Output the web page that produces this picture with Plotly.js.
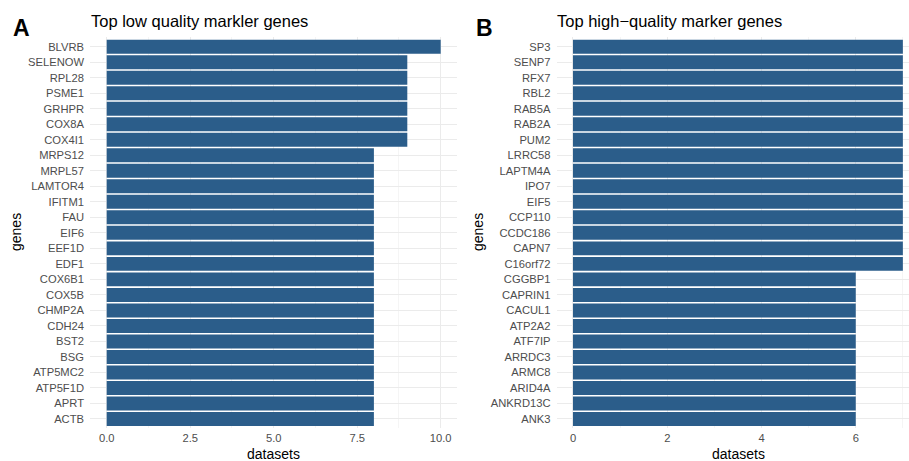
<!DOCTYPE html>
<html>
<head>
<meta charset="utf-8">
<script src="https://cdn.plot.ly/plotly-3.0.1.min.js"></script>
<style>html,body{margin:0;padding:0;background:#fff;}#chart{width:909px;height:461px;}</style>
</head>
<body>
<div id="chart"></div>
<script>
const genesA = ["BLVRB","SELENOW","RPL28","PSME1","GRHPR","COX8A","COX4I1","MRPS12","MRPL57","LAMTOR4","IFITM1","FAU","EIF6","EEF1D","EDF1","COX6B1","COX5B","CHMP2A","CDH24","BST2","BSG","ATP5MC2","ATP5F1D","APRT","ACTB"];
const valuesA = [10,9,9,9,9,9,9,8,8,8,8,8,8,8,8,8,8,8,8,8,8,8,8,8,8];
const genesB = ["SP3","SENP7","RFX7","RBL2","RAB5A","RAB2A","PUM2","LRRC58","LAPTM4A","IPO7","EIF5","CCP110","CCDC186","CAPN7","C16orf72","CGGBP1","CAPRIN1","CACUL1","ATP2A2","ATF7IP","ARRDC3","ARMC8","ARID4A","ANKRD13C","ANK3"];
const valuesB = [7,7,7,7,7,7,7,7,7,7,7,7,7,7,7,6,6,6,6,6,6,6,6,6,6];
const titleA = "Top low quality markler genes";
const titleB = "Top high\u2212quality marker genes";

const W = 909, H = 461;
const FONT = "Liberation Sans, Arial, Helvetica, sans-serif";
const barColor = "#2b5d8a";
const grid = "#ebebeb";
const tickFont = {family: FONT, size: 11.2, color: "#4d4d4d"};
const yDom = [(H - 428.3) / H, (H - 37.4) / H];

const traces = [
  {type: "bar", orientation: "h", x: valuesA, y: genesA, xaxis: "x", yaxis: "y",
   marker: {color: barColor, line: {width: 0}}, hoverinfo: "x+y"},
  {type: "bar", orientation: "h", x: valuesB, y: genesB, xaxis: "x2", yaxis: "y2",
   marker: {color: barColor, line: {width: 0}}, hoverinfo: "x+y"}
];

function yAxis(cats, anchor) {
  return {
    type: "category", categoryorder: "array", categoryarray: cats,
    range: [cats.length - 0.4, -0.6], domain: yDom, anchor: anchor,
    showgrid: true, gridcolor: grid, gridwidth: 1, zeroline: false,
    showline: false, ticks: "", tickfont: tickFont, ticklabelstandoff: 5,
    automargin: false, fixedrange: true
  };
}

const layout = {
  width: W, height: H,
  margin: {l: 0, r: 0, t: 0, b: 0, pad: 0},
  paper_bgcolor: "#fff", plot_bgcolor: "#fff",
  showlegend: false, bargap: 0.1,
  font: {family: FONT},
  xaxis: {
    domain: [90 / W, 457.4 / W], anchor: "y", range: [-0.5, 10.5],
    tickmode: "linear", tick0: 0, dtick: 2.5, tickformat: ".1f",
    showgrid: true, gridcolor: grid, gridwidth: 1, zeroline: false, showline: false,
    ticks: "", tickfont: tickFont, ticklabelstandoff: 1, automargin: false, fixedrange: true,
    minor: {tick0: 0, dtick: 1.25, showgrid: true, gridcolor: "#eeeeee", gridwidth: 0.6, ticks: ""}
  },
  yaxis: yAxis(genesA, "x"),
  xaxis2: {
    domain: [556.5 / W, 1], anchor: "y2", range: [-0.35, 7.13],
    tickmode: "linear", tick0: 0, dtick: 2, tickformat: "d",
    showgrid: true, gridcolor: grid, gridwidth: 1, zeroline: false, showline: false,
    ticks: "", tickfont: tickFont, ticklabelstandoff: 1, automargin: false, fixedrange: true,
    minor: {tick0: 0, dtick: 1, showgrid: true, gridcolor: "#eeeeee", gridwidth: 0.6, ticks: ""}
  },
  yaxis2: yAxis(genesB, "x2"),
  annotations: [
    {text: "<b>A</b>", xref: "paper", yref: "paper", x: 11 / W, y: 1 - 28 / H,
     xanchor: "left", yanchor: "middle", showarrow: false, font: {family: FONT, size: 23, color: "#000"}},
    {text: "<b>B</b>", xref: "paper", yref: "paper", x: 474 / W, y: 1 - 28 / H,
     xanchor: "left", yanchor: "middle", showarrow: false, font: {family: FONT, size: 23, color: "#000"}},
    {text: titleA, xref: "paper", yref: "paper", x: 89 / W, y: 1 - 21 / H,
     xanchor: "left", yanchor: "middle", showarrow: false, font: {family: FONT, size: 16.5, color: "#000"}},
    {text: titleB, xref: "paper", yref: "paper", x: 555 / W, y: 1 - 21 / H,
     xanchor: "left", yanchor: "middle", showarrow: false, font: {family: FONT, size: 16.5, color: "#000"}},
    {text: "genes", xref: "paper", yref: "paper", x: 16 / W, y: 1 - 232 / H, textangle: -90,
     xanchor: "center", yanchor: "middle", showarrow: false, font: {family: FONT, size: 14, color: "#000"}},
    {text: "genes", xref: "paper", yref: "paper", x: 478 / W, y: 1 - 232 / H, textangle: -90,
     xanchor: "center", yanchor: "middle", showarrow: false, font: {family: FONT, size: 14, color: "#000"}},
    {text: "datasets", xref: "paper", yref: "paper", x: 273.7 / W, y: 1 - 454 / H,
     xanchor: "center", yanchor: "middle", showarrow: false, font: {family: FONT, size: 14, color: "#000"}},
    {text: "datasets", xref: "paper", yref: "paper", x: 738 / W, y: 1 - 454 / H,
     xanchor: "center", yanchor: "middle", showarrow: false, font: {family: FONT, size: 14, color: "#000"}}
  ]
};

Plotly.newPlot("chart", traces, layout, {displayModeBar: false, staticPlot: true});
</script>
</body>
</html>
